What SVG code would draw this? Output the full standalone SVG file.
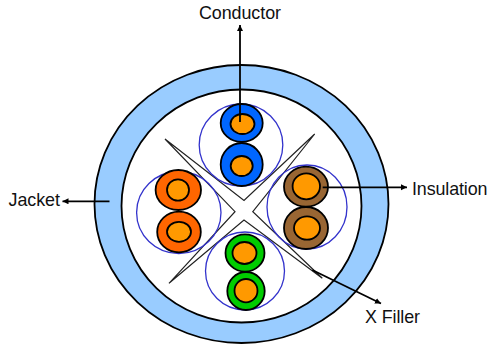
<svg xmlns="http://www.w3.org/2000/svg" width="489" height="345" viewBox="0 0 489 345">
<style>
.o{stroke:#000;stroke-width:1.8}
.core{fill:#f90}
.guide{fill:none;stroke:#33c;stroke-width:1.3}
.lead{fill:none;stroke:#000;stroke-width:1.8}
text{font-family:"Liberation Sans",Arial,sans-serif;font-size:17.9px;fill:#111}
</style>
<defs><marker id="a" markerUnits="userSpaceOnUse" markerWidth="8" markerHeight="8" refX="6" refY="3" orient="auto"><path d="M0 0L6 3L0 6z" fill="#000"/></marker></defs>
<rect width="489" height="345" fill="#fff"/>
<g id="jacket"><ellipse class="o" cx="241.5" cy="204" rx="147" ry="139" fill="#9cf"/><ellipse class="o" cx="241.5" cy="206" rx="120" ry="116.5" fill="#fff"/></g>
<g id="x-filler"><path d="M165 139L244 200.5L314.7 134L252.8 211.7L322.3 278.3L244 220L169 283.3L235 211.7Z" fill="#fff" stroke="#222" stroke-width="1.2"/></g>
<g id="pair-blue">
<ellipse class="guide" cx="241" cy="145" rx="41.8" ry="41"/>
<ellipse class="o" cx="241.7" cy="123" rx="21" ry="19" fill="#06f"/><ellipse class="o core" cx="242.5" cy="124" rx="12" ry="10"/>
<ellipse class="o" cx="241.7" cy="164.5" rx="21" ry="21.5" fill="#06f"/><ellipse class="o core" cx="241.7" cy="166" rx="11" ry="10"/>
</g>
<g id="pair-orange">
<ellipse class="guide" cx="178.8" cy="212.5" rx="42.2" ry="41"/>
<ellipse class="o" cx="178.3" cy="190" rx="22.7" ry="20" fill="#f60"/><ellipse class="o core" cx="178" cy="190" rx="11" ry="10.7"/>
<ellipse class="o" cx="179" cy="232" rx="21.8" ry="20.3" fill="#f60"/><ellipse class="o core" cx="179" cy="231.8" rx="12" ry="10"/>
</g>
<g id="pair-brown">
<ellipse class="guide" cx="307" cy="207" rx="40" ry="42"/>
<ellipse class="o" cx="306" cy="186.7" rx="22" ry="20" fill="#963"/><ellipse class="o core" cx="306.3" cy="186.3" rx="13.7" ry="13"/>
<ellipse class="o" cx="306" cy="228" rx="22" ry="21" fill="#963"/><ellipse class="o core" cx="307" cy="228" rx="13" ry="11.7"/>
</g>
<g id="pair-green">
<ellipse class="guide" cx="245" cy="271" rx="39.5" ry="39"/>
<ellipse class="o" cx="245" cy="253" rx="19.5" ry="18.7" fill="#0c0"/><ellipse class="o core" cx="244.5" cy="253" rx="12" ry="11"/>
<ellipse class="o" cx="246" cy="291" rx="18.7" ry="19" fill="#0c0"/><ellipse class="o core" cx="246" cy="290.7" rx="11.5" ry="11.7"/>
</g>
<g id="connectors">
<path class="lead" d="M240 122V25" marker-end="url(#a)"/>
<path class="lead" d="M322.7 187.3H407" marker-end="url(#a)"/>
<path class="lead" d="M312.3 270L381 303.5" marker-end="url(#a)"/>
<path class="lead" d="M109.5 201.3H62.5" marker-end="url(#a)"/>
</g>
<g id="labels">
<text x="199" y="19" textLength="82">Conductor</text>
<text x="412" y="195" textLength="75.5">Insulation</text>
<text x="8.5" y="205.7" textLength="51.5">Jacket</text>
<text x="365" y="322.7" textLength="55">X Filler</text>
</g>
</svg>
